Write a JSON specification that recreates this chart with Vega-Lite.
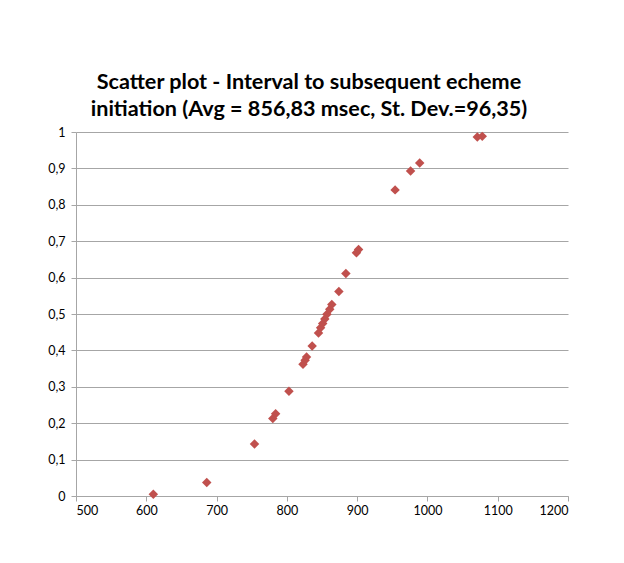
{
  "$schema": "https://vega.github.io/schema/vega-lite/v6.json",
  "width": 492,
  "height": 364,
  "autosize": "none",
  "padding": {"left": 76, "top": 132, "right": 56, "bottom": 67},
  "background": "white",
  "title": {
    "text": ["Scatter plot - Interval to subsequent echeme", "initiation (Avg = 856,83 msec, St. Dev.=96,35)"],
    "font": "Lato",
    "fontSize": 21.6,
    "fontWeight": "bold",
    "color": "#000000",
    "lineHeight": 27,
    "anchor": "middle",
    "dx": -13,
    "offset": 5
  },
  "data": {
    "values": [
      {"interval": 610, "cumulative": 0.005},
      {"interval": 686, "cumulative": 0.037},
      {"interval": 754, "cumulative": 0.143},
      {"interval": 780, "cumulative": 0.213},
      {"interval": 784, "cumulative": 0.226},
      {"interval": 803, "cumulative": 0.288},
      {"interval": 823, "cumulative": 0.362},
      {"interval": 826, "cumulative": 0.373},
      {"interval": 828, "cumulative": 0.382},
      {"interval": 836, "cumulative": 0.412},
      {"interval": 845, "cumulative": 0.448},
      {"interval": 848, "cumulative": 0.462},
      {"interval": 851, "cumulative": 0.474},
      {"interval": 854, "cumulative": 0.486},
      {"interval": 857, "cumulative": 0.499},
      {"interval": 861, "cumulative": 0.513},
      {"interval": 864, "cumulative": 0.526},
      {"interval": 874, "cumulative": 0.562},
      {"interval": 884, "cumulative": 0.611},
      {"interval": 899, "cumulative": 0.668},
      {"interval": 902, "cumulative": 0.677},
      {"interval": 954, "cumulative": 0.841},
      {"interval": 976, "cumulative": 0.893},
      {"interval": 989, "cumulative": 0.915},
      {"interval": 1071, "cumulative": 0.986},
      {"interval": 1078, "cumulative": 0.988}
    ]
  },
  "mark": {"type": "point", "shape": "diamond", "filled": true, "size": 90, "color": "#C0504D", "opacity": 1},
  "encoding": {
    "x": {
      "field": "interval",
      "type": "quantitative",
      "scale": {"domain": [500, 1200], "nice": false, "zero": false},
      "axis": {
        "title": null,
        "values": [500, 600, 700, 800, 900, 1000, 1100, 1200],
        "format": "d",
        "grid": false,
        "domainColor": "#A6A6A6",
        "tickColor": "#A6A6A6",
        "tickSize": 5,
        "labelFont": "Lato",
        "labelFontSize": 12.5,
        "labelColor": "#000000",
        "labelPadding": 3
      }
    },
    "y": {
      "field": "cumulative",
      "type": "quantitative",
      "scale": {"domain": [0, 1], "nice": false},
      "axis": {
        "title": null,
        "values": [0, 0.1, 0.2, 0.3, 0.4, 0.5, 0.6, 0.7, 0.8, 0.9, 1],
        "labelExpr": "replace(format(datum.value, '.1~f'), '.', ',')",
        "grid": true,
        "gridColor": "#A6A6A6",
        "gridWidth": 1,
        "domainColor": "#A6A6A6",
        "tickColor": "#A6A6A6",
        "tickSize": 5,
        "labelFont": "Lato",
        "labelFontSize": 12.5,
        "labelColor": "#000000",
        "labelPadding": 6
      }
    }
  },
  "config": {"view": {"stroke": null}}
}
